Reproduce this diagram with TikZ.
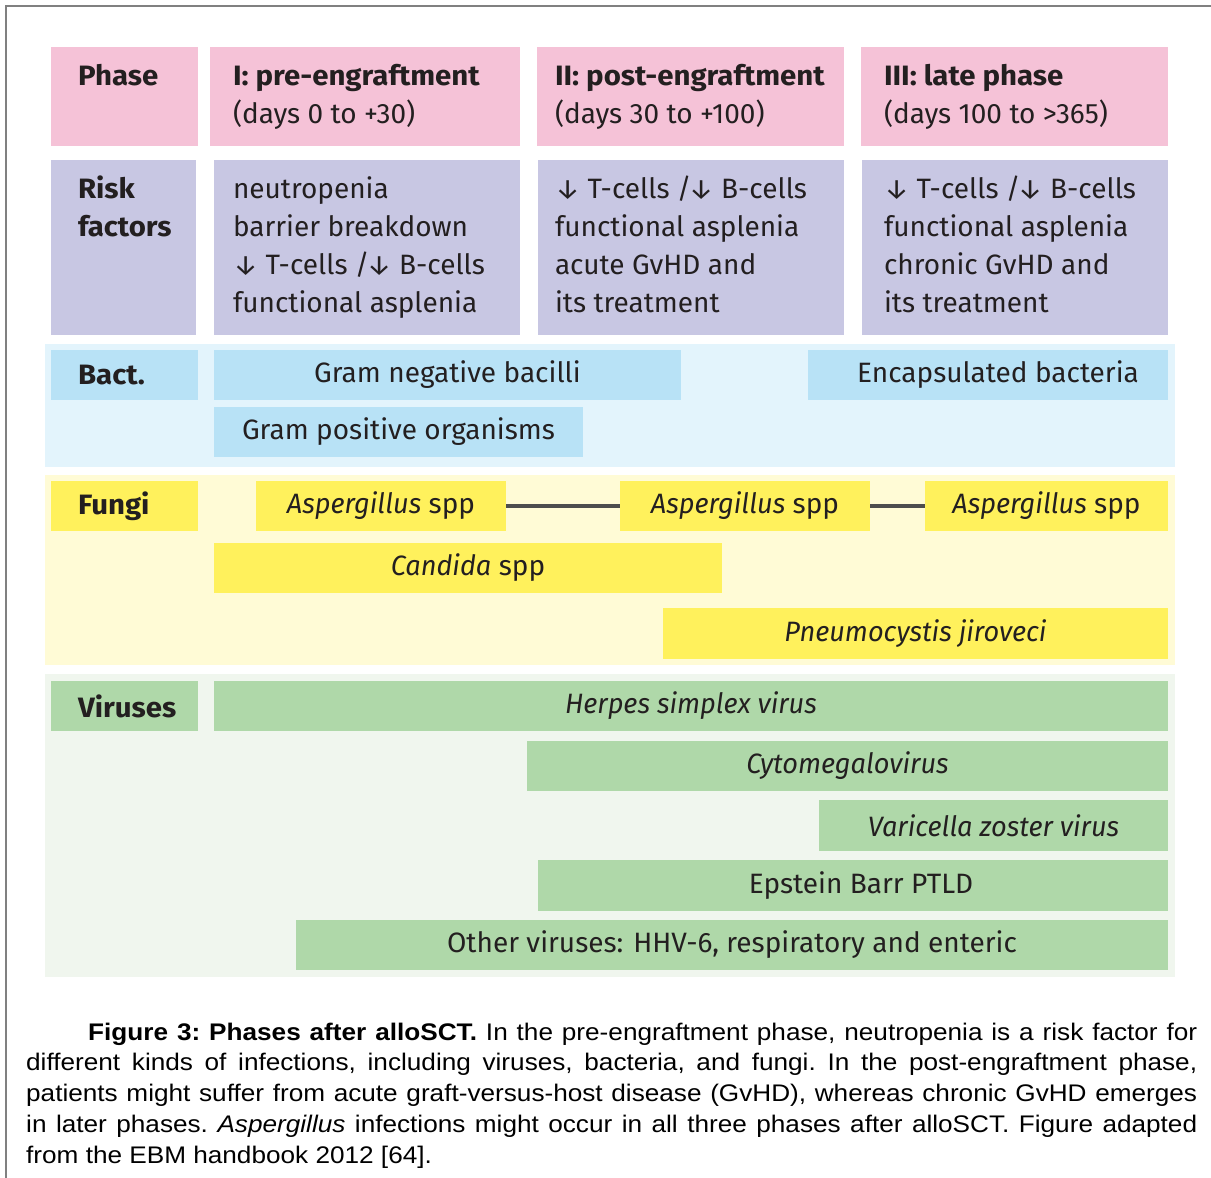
\documentclass[tikz,border=0pt]{standalone}
\usepackage{fontspec}
\setmainfont{Fira Sans}[BoldFeatures={FakeStretch=1.05},ItalicFeatures={FakeStretch=0.97}]
\newfontfamily\capfont{Liberation Sans}[FakeStretch=1.09]
\definecolor{txt}{HTML}{231F20}
\definecolor{pinkbox}{HTML}{F5C2D7}
\definecolor{lavbox}{HTML}{C8C7E3}
\definecolor{bluebox}{HTML}{B8E2F6}
\definecolor{bluebg}{HTML}{E3F4FC}
\definecolor{yelbox}{HTML}{FFF15C}
\definecolor{yelbg}{HTML}{FFFBD6}
\definecolor{grnbox}{HTML}{AFD8A9}
\definecolor{grnbg}{HTML}{F0F6EE}
\definecolor{frame}{HTML}{808080}
\definecolor{conn}{HTML}{4D4D4D}
\newcommand{\dfont}{\fontsize{28}{38}\selectfont}
\newcommand{\lcol}[2]{\makebox[#1][l]{\begin{tabular}{@{}l@{}}#2\end{tabular}}}
\begin{document}
\begin{tikzpicture}[x=1pt,y=-1pt,
  bx/.style={inner sep=0pt, outer sep=0pt, anchor=north west, text=txt, font=\dfont},
  hbox/.style={bx, fill=pinkbox, minimum height=99pt},
  rbox/.style={bx, fill=lavbox, minimum height=175pt},
  bbox/.style={bx, fill=bluebox, minimum height=50pt},
  ybox/.style={bx, fill=yelbox, minimum height=50pt},
  gbox/.style={bx, fill=grnbox, minimum height=50pt},
  link/.style={draw=conn, line width=3.2pt}]
\useasboundingbox (0,0) rectangle (1211,1178);
% frame lines
\draw[frame, line width=2pt] (6,1178) -- (6,6) -- (1211,6);
% section backgrounds
\fill[bluebg] (45,344) rectangle (1175,467);
\fill[yelbg] (45,475) rectangle (1175,665);
\fill[grnbg] (45,674) rectangle (1175,977);
% header row
\node[hbox, minimum width=147pt] (phase) at (51,47) {\lcol{93pt}{\textbf{Phase}\\ \mbox{}}};
\node[hbox, minimum width=310pt] (h1) at (210,47) {\lcol{264pt}{\textbf{I: pre-engraftment}\\(days 0 to +30)}};
\node[hbox, minimum width=307pt] (h2) at (537,47) {\lcol{271pt}{\textbf{II: post-engraftment}\\(days 30 to +100)}};
\node[hbox, minimum width=307pt] (h3) at (861,47) {\lcol{261pt}{\textbf{III: late phase}\\(days 100 to >365)}};
% risk row
\node[rbox, minimum width=145pt] (risk) at (51,160) {\lcol{91pt}{\textbf{Risk}\\\textbf{factors}\\ \mbox{}\\ \mbox{}}};
\node[rbox, minimum width=306pt] (r1) at (214,160) {\lcol{268pt}{neutropenia\\barrier breakdown\\↓ T-cells /\kern-3pt↓ B-cells\\functional asplenia}};
\node[rbox, minimum width=306pt] (r2) at (538,160) {\lcol{272pt}{↓ T-cells /\kern-3pt↓ B-cells\\functional asplenia\\acute GvHD and\\its treatment}};
\node[rbox, minimum width=306pt] (r3) at (862,160) {\lcol{262pt}{↓ T-cells /\kern-3pt↓ B-cells\\functional asplenia\\chronic GvHD and\\its treatment}};
% bacteria
\node[bbox, minimum width=147pt] (bact) at (51,350) {\makebox[93pt][l]{\textbf{Bact.}}};
\node[bbox, minimum width=467pt] (gneg) at (214,350) {Gram negative bacilli};
\node[bbox, minimum width=360pt] (encap) at (808,350) {\hspace*{20pt}Encapsulated bacteria};
\node[bbox, minimum width=369pt] (gpos) at (214,407) {Gram positive organisms};
% fungi
\node[ybox, minimum width=147pt] (fungi) at (51,481) {\makebox[93pt][l]{\textbf{Fungi}}};
\node[ybox, minimum width=250pt] (asp1) at (256,481) {\textit{Aspergillus} spp};
\node[ybox, minimum width=250pt] (asp2) at (620,481) {\textit{Aspergillus} spp};
\node[ybox, minimum width=243pt] (asp3) at (925,481) {\textit{Aspergillus} spp};
\node[ybox, minimum width=508pt] (cand) at (214,543) {\textit{Candida} spp};
\node[ybox, minimum width=505pt, minimum height=51pt] (pneu) at (663,608) {\textit{Pneumocystis jiroveci}};
\draw[link] (asp1.east) -- (asp2.west);
\draw[link] (asp2.east) -- (asp3.west);
% viruses
\node[gbox, minimum width=147pt] (vir) at (51,681) {\makebox[93pt][l]{\textbf{Viruses}}};
\node[gbox, minimum width=954pt] (hsv) at (214,681) {\textit{Herpes simplex virus}};
\node[gbox, minimum width=641pt] (cmv) at (527,741) {\textit{Cytomegalovirus}};
\node[gbox, minimum width=349pt, minimum height=51pt] (vzv) at (819,800) {\textit{Varicella zoster virus}};
\node[gbox, minimum width=630pt, minimum height=51pt] (ebv) at (538,860) {\hspace*{16pt}Epstein Barr PTLD};
\node[gbox, minimum width=872pt] (oth) at (296,920) {Other viruses: HHV-6, respiratory and enteric};
% caption
\node[anchor=base west, inner sep=0pt, text=black] (cap) at (26,1040) {\parbox[t]{1171pt}{\capfont\fontsize{24}{30.75}\selectfont\frenchspacing
\tolerance=10000 \hyphenpenalty=10000 \setlength\parindent{62pt}\indent
\textbf{Figure 3: Phases after alloSCT.} In the pre-engraftment phase, neutropenia is a risk factor for\linebreak
different kinds of infections, including viruses, bacteria, and fungi. In the post-engraftment phase,\linebreak
patients might suffer from acute graft-versus-host disease (GvHD), whereas chronic GvHD emerges\linebreak
in later phases. \textit{Aspergillus} infections might occur in all three phases after alloSCT. Figure adapted\linebreak
from the EBM handbook 2012 [64].}};
\end{tikzpicture}
\end{document}
